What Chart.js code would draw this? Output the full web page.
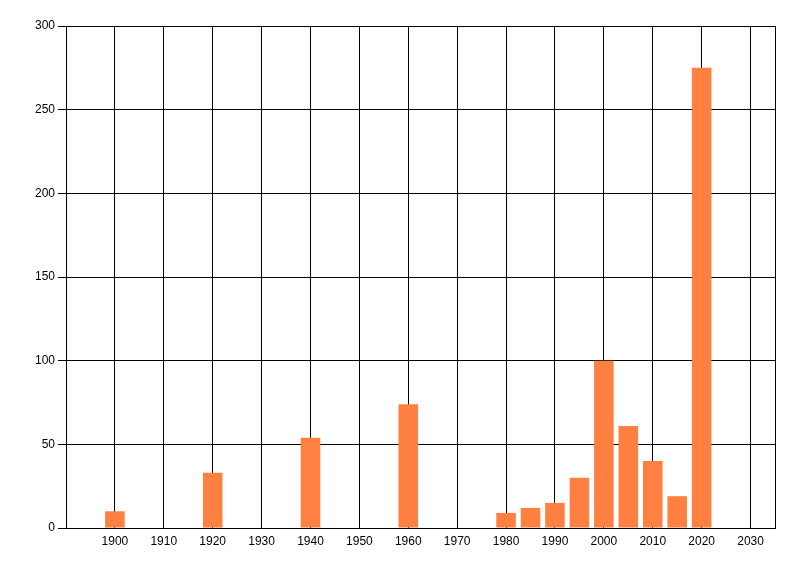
<!DOCTYPE html>
<html>
<head>
<meta charset="utf-8">
<script src="https://cdn.jsdelivr.net/npm/chart.js@4/dist/chart.umd.min.js"></script>
<style>
    html, body { margin: 0; padding: 0; background: #fff; }
    #wrap { width: 800px; height: 576px; }
</style>
</head>
<body>
<div id="wrap"><canvas id="chart"></canvas></div>
<script>
const years = [1900, 1920, 1940, 1960, 1980, 1985, 1990, 1995, 2000, 2005, 2010, 2015, 2020];
const counts = [10, 33, 54, 74, 9, 12, 15, 30, 100, 61, 40, 19, 275];
const xTicks = [1890, 1900, 1910, 1920, 1930, 1940, 1950, 1960, 1970, 1980, 1990, 2000, 2010, 2020, 2030, 2035];
const xLabelled = [1900, 1910, 1920, 1930, 1940, 1950, 1960, 1970, 1980, 1990, 2000, 2010, 2020, 2030];

const tickFont = { family: 'Liberation Sans', size: 12 };

new Chart(document.querySelector('#chart'), {
    type: 'bar',
    data: {
        datasets: [{
            data: years.map((y, i) => ({ x: y, y: counts[i] })),
            backgroundColor: '#FF8040',
            borderWidth: 0,
            barPercentage: 1.0,
            categoryPercentage: 0.8
        }]
    },
    options: {
        responsive: true,
        maintainAspectRatio: false,
        animation: false,
        layout: { padding: { top: 26, right: 25, left: 0, bottom: 0 } },
        plugins: {
            legend: { display: false },
            tooltip: { enabled: false }
        },
        scales: {
            x: {
                type: 'linear',
                min: 1890,
                max: 2035,
                offset: false,
                afterBuildTicks: (axis) => {
                    axis.ticks = xTicks.map(v => ({ value: v }));
                },
                afterFit: (axis) => { axis.height = 48; },
                ticks: {
                    autoSkip: false,
                    maxRotation: 0,
                    padding: 6,
                    color: '#000',
                    font: tickFont,
                    callback: (v) => xLabelled.includes(v) ? String(v) : ''
                },
                grid: { color: '#000', lineWidth: 1, drawTicks: false, offset: false },
                border: { display: true, color: '#000', width: 1 }
            },
            y: {
                min: 0,
                max: 300,
                afterFit: (axis) => { axis.width = 66; },
                ticks: {
                    stepSize: 50,
                    padding: 3,
                    color: '#000',
                    font: tickFont
                },
                grid: { color: '#000', lineWidth: 1, tickLength: 8, tickColor: '#000' },
                border: { display: true, color: '#000', width: 1 }
            }
        }
    }
});
</script>
</body>
</html>
